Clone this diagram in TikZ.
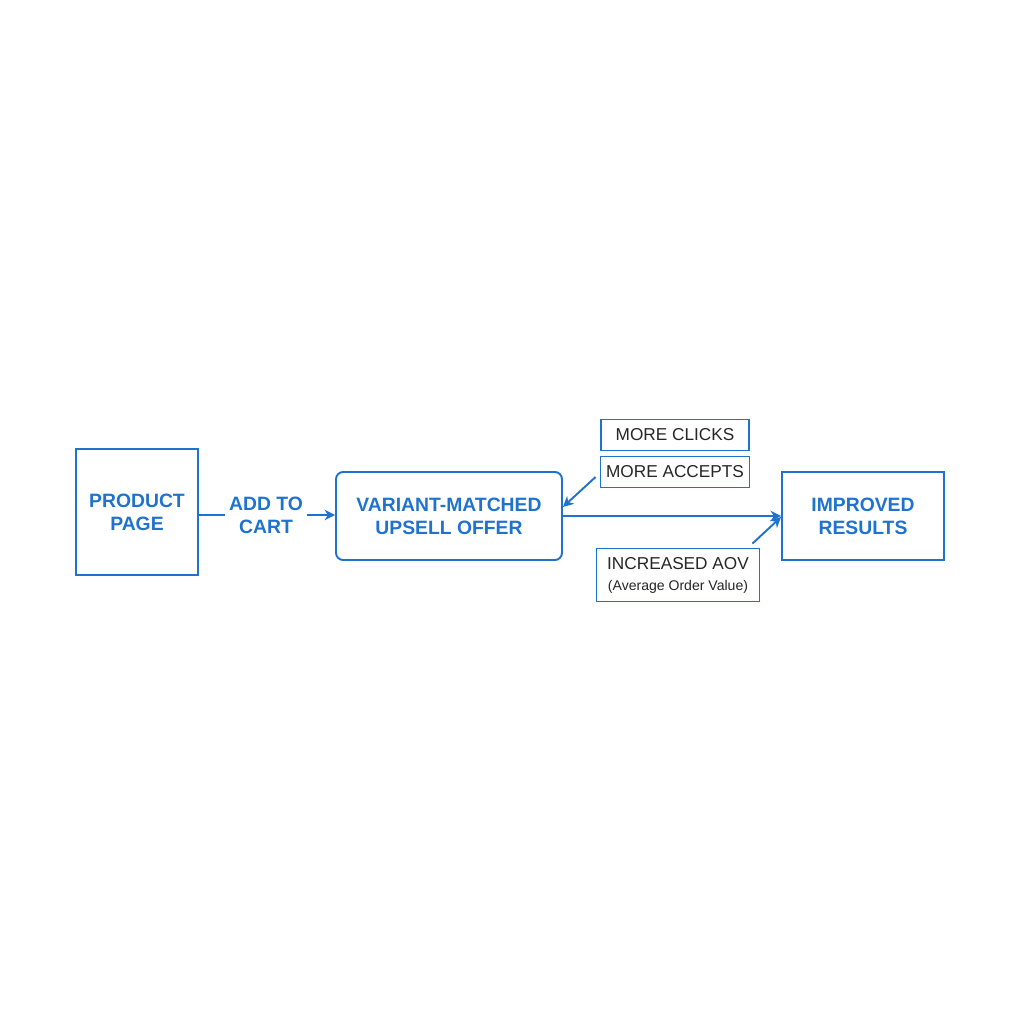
\documentclass[tikz,border=0pt]{standalone}
\usepackage{fontspec}
\setmainfont{Liberation Sans}
\usetikzlibrary{positioning,arrows.meta}

\definecolor{flowblue}{HTML}{1F73CF}
\definecolor{labeldark}{HTML}{262626}

\tikzset{
  stage/.style={draw=flowblue,line width=1.1pt,text=flowblue,align=center,
    font=\fontsize{11}{13}\selectfont\bfseries,inner sep=0pt},
  tag/.style={draw=flowblue,line width=1.1pt,text=labeldark,align=center,
    font=\fontsize{9.8}{11}\selectfont,inner sep=0pt},
  link/.style={draw=flowblue,line width=1.1pt},
  >={Stealth[length=6pt,width=6pt]}
}

\begin{document}
\begin{tikzpicture}[x=0.02cm,y=-0.02cm]
      \useasboundingbox (0,0) rectangle (1024,1024);
      \node [stage,minimum width=2.44cm,minimum height=2.52cm] (product) at (137,512) {PRODUCT\\PAGE};
      \node [text=flowblue,align=center,font=\fontsize{11}{13}\selectfont\bfseries,inner xsep=2pt] (cart) at (266,515) {ADD TO\\CART};
      \node [stage,rounded corners=4pt,minimum width=4.52cm,minimum height=1.76cm] (variant) at (449,516) {VARIANT-MATCHED\\UPSELL OFFER};
      \node [stage,minimum width=3.24cm,minimum height=1.76cm] (improved) at (863,516) {IMPROVED\\RESULTS};
      \node [tag,minimum width=2.96cm,minimum height=0.62cm] (clicks) at (675,435) {MORE CLICKS};
      \node [tag,minimum width=2.98cm,minimum height=0.62cm] (accepts) at (675,472) {MORE ACCEPTS};
      \node [tag,minimum width=3.26cm,minimum height=1.06cm] (aov) at (678,575)
        {INCREASED AOV\\[1pt]{\fontsize{8}{10}\selectfont(Average Order Value)}};
      % connectors
      \path [link] (product.east |- cart.west) -- (cart.west);
      \path [link,->] (cart.east) -- (variant.west |- cart.east);
      \path [link,->] (variant) -- (improved);
      \path [link,->] ([xshift=-0.08cm,yshift=-0.1cm]accepts.west) -- ([yshift=0.18cm]variant.east);
      \path [link,->] ([xshift=-0.16cm,yshift=0.08cm]aov.north east) -- ([yshift=-0.02cm]improved.west);
    \end{tikzpicture}
\end{document}
